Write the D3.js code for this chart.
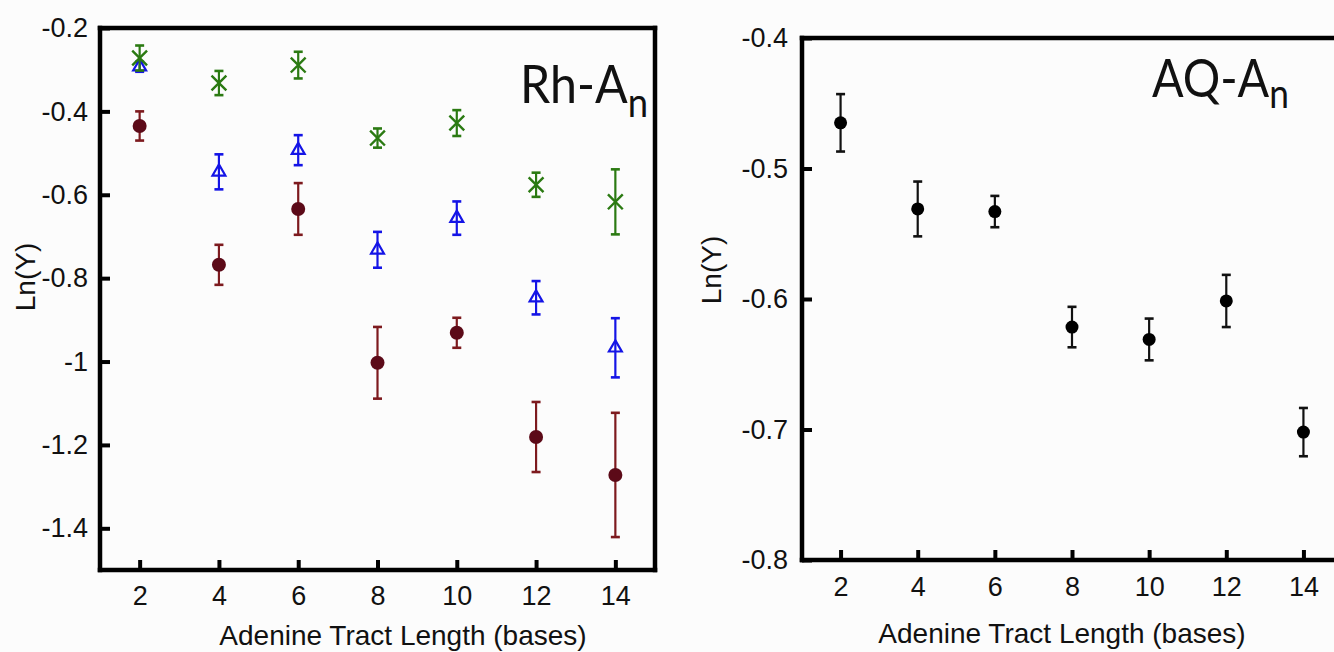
<!DOCTYPE html>
<html><head><meta charset="utf-8">
<script src="https://cdn.jsdelivr.net/npm/d3@7"></script>
<style>body{margin:0;background:#fcfcfc;}svg{display:block;}</style>
</head><body>
<svg id="c" width="1334" height="652"></svg>
<script>
const xTicks = [2,4,6,8,10,12,14];
const leftYTicks = [-0.2,-0.4,-0.6,-0.8,-1,-1.2,-1.4];
const rightYTicks = [-0.4,-0.5,-0.6,-0.7,-0.8];
const lengths = [2,4,6,8,10,12,14];
// Rh-An series
const greenVals = [-0.272,-0.332,-0.289,-0.464,-0.428,-0.576,-0.617];
const greenErr  = [0.030,0.029,0.032,0.023,0.031,0.029,0.078];
const blueVals  = [-0.293,-0.545,-0.493,-0.732,-0.656,-0.847,-0.967];
const blueErr   = [0.012,0.042,0.036,0.043,0.040,0.040,0.071];
const redVals   = [-0.435,-0.768,-0.634,-1.003,-0.931,-1.181,-1.272];
const redErr    = [0.035,0.048,0.062,0.086,0.036,0.084,0.149];
// AQ-An series
const aqVals = [-0.465,-0.531,-0.533,-0.6215,-0.631,-0.6015,-0.702];
const aqErr  = [0.022,0.021,0.012,0.0155,0.016,0.020,0.0185];

const svg = d3.select("#c");
const FONT = "'Liberation Sans', Arial, sans-serif";

function panel(opts){
  const g = svg.append("g");
  const x = d3.scaleLinear().domain(opts.xd).range(opts.xr);
  const y = d3.scaleLinear().domain(opts.yd).range(opts.yr);
  const [x0,x1] = opts.xr, [y0,y1] = opts.yr;
  const lw = 4.5;
  const xe = opts.right ? x1 + lw/2 : 1334;
  const ya = g.append("g").attr("transform",`translate(${x0},0)`)
    .call(d3.axisLeft(y).tickValues(opts.yt).tickSizeInner(-10).tickSizeOuter(0).tickPadding(opts.ypad)
      .tickFormat(d=>String(+d.toFixed(1))));
  ya.select(".domain").remove();
  ya.selectAll(".tick line").attr("stroke","#000").attr("stroke-width",4);
  ya.selectAll(".tick text").attr("font-family",FONT).attr("font-size",27).attr("fill","#111");
  const xa = g.append("g").attr("transform",`translate(0,${y0})`)
    .call(d3.axisBottom(x).tickValues(xTicks).tickSizeInner(-10).tickSizeOuter(0).tickPadding(opts.xpad));
  xa.select(".domain").remove();
  xa.selectAll(".tick line").attr("stroke","#000").attr("stroke-width",4);
  xa.selectAll(".tick text").attr("font-family",FONT).attr("font-size",27).attr("fill","#111");
  g.append("line").attr("x1",x0).attr("x2",x0).attr("y1",y0+lw/2).attr("y2",y1-lw/2).attr("stroke","#000").attr("stroke-width",lw);
  g.append("line").attr("x1",x0-lw/2).attr("x2",xe).attr("y1",y0).attr("y2",y0).attr("stroke","#000").attr("stroke-width",lw);
  g.append("line").attr("x1",x0-lw/2).attr("x2",xe).attr("y1",y1).attr("y2",y1).attr("stroke","#000").attr("stroke-width",lw);
  if(opts.right) g.append("line").attr("x1",x1).attr("x2",x1).attr("y1",y0+lw/2).attr("y2",y1-lw/2).attr("stroke","#000").attr("stroke-width",lw);
  g.append("text").attr("x",opts.xlx).attr("y",opts.xly).attr("text-anchor","middle")
    .attr("font-family",FONT).attr("font-size",28).attr("fill","#111").text("Adenine Tract Length (bases)");
  g.append("text").attr("transform",`translate(${opts.ylx},${opts.yly}) rotate(-90)`).attr("text-anchor","middle")
    .attr("font-family",FONT).attr("font-size",28).attr("fill","#111").text("Ln(Y)");
  const tf = "Lato, 'Open Sans', sans-serif";
  const t = g.append("text").attr("x",0).attr("y",0).attr("font-family",tf).attr("font-size",53).attr("fill","#111");
  t.append("tspan").text(opts.title);
  t.append("tspan").attr("dy",opts.sub).attr("font-size",40).text("n");
  const w = t.node().getComputedTextLength();
  const s = opts.tw / w;
  t.attr("transform",`translate(${opts.tx},${opts.ty}) scale(${s},1)`);
  return {g,x,y};
}

function errorbars(p, vals, errs, color, cap){
  const g = p.g.append("g");
  lengths.forEach((L,i)=>{
    const cx = p.x(L), t = p.y(vals[i]+errs[i]), b = p.y(vals[i]-errs[i]);
    g.append("line").attr("x1",cx).attr("x2",cx).attr("y1",t).attr("y2",b).attr("stroke",color).attr("stroke-width",2.2);
    [t,b].forEach(yy=>g.append("line").attr("x1",cx-cap).attr("x2",cx+cap).attr("y1",yy).attr("y2",yy).attr("stroke",color).attr("stroke-width",2.6));
  });
}

const L = panel({xd:[1,15], xr:[100,655], yd:[-1.5,-0.2], yr:[570,28], yt:leftYTicks, right:true,
  ypad:12, xpad:16, xlx:403, xly:645, ylx:35, yly:277, tx:520, ty:103, sub:14, tw:128, title:"Rh-A"});
errorbars(L, redVals, redErr, "#7d1a1e", 4.5);
L.g.selectAll(".red").data(lengths).join("circle").attr("cx",d=>L.x(d)).attr("cy",(d,i)=>L.y(redVals[i])).attr("r",7).attr("fill","#5c0a18");
errorbars(L, blueVals, blueErr, "#1414e6", 4.5);
const tri = d3.symbol().type(d3.symbolTriangle).size(72);
L.g.selectAll(".blue").data(lengths).join("path").attr("d",tri)
  .attr("transform",(d,i)=>`translate(${L.x(d)},${L.y(blueVals[i])})`).attr("fill","none").attr("stroke","#1414e6").attr("stroke-width",2.2);
errorbars(L, greenVals, greenErr, "#2b7a12", 4.5);
const xs = d3.symbol().type(d3.symbolX).size(145);
L.g.selectAll(".green").data(lengths).join("path").attr("d",xs)
  .attr("transform",(d,i)=>`translate(${L.x(d)},${L.y(greenVals[i])})`).attr("fill","none").attr("stroke","#2b7a12").attr("stroke-width",2.4);

const R = panel({xd:[1,15], xr:[802,1342], yd:[-0.8,-0.4], yr:[560,38], yt:rightYTicks, right:false,
  ypad:14, xpad:17, xlx:1062, xly:643, ylx:721, yly:270, tx:1152, ty:97, sub:11, tw:137, title:"AQ-A"});
errorbars(R, aqVals, aqErr, "#111", 4.5);
R.g.selectAll(".aq").data(lengths).join("circle").attr("cx",d=>R.x(d)).attr("cy",(d,i)=>R.y(aqVals[i])).attr("r",6.5).attr("fill","#000");
</script>
</body></html>
